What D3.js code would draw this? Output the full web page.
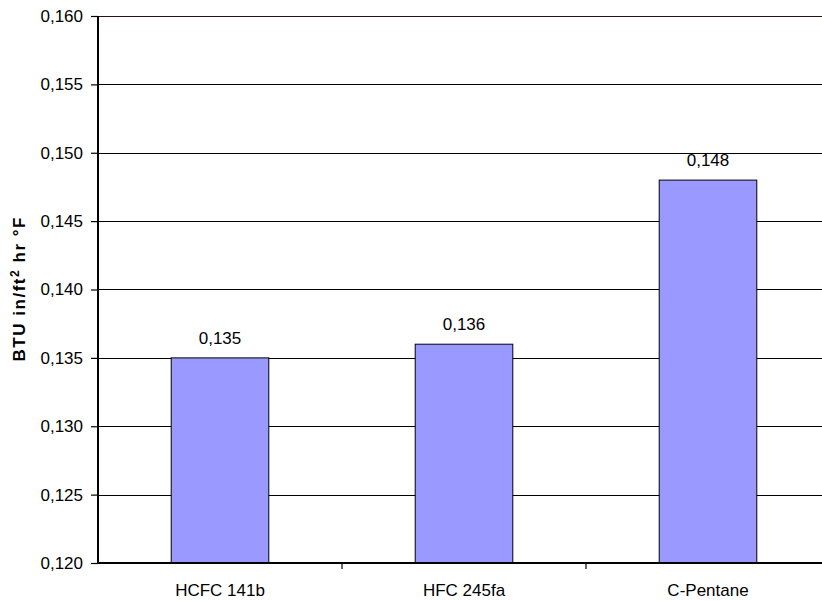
<!DOCTYPE html>
<html><head><meta charset="utf-8">
<script src="https://cdn.jsdelivr.net/npm/d3@7"></script>
<style>body{margin:0;background:#fff}svg{display:block}text{font-family:"Liberation Sans",Arial,sans-serif}</style>
</head><body>
<svg id="c" width="822" height="601"></svg>
<script>
const categories = ["HCFC 141b", "HFC 245fa", "C-Pentane"];
const values = [0.135, 0.136, 0.148];
const yTicks = [0.120, 0.125, 0.130, 0.135, 0.140, 0.145, 0.150, 0.155, 0.160];
const yLabelParts = ["BTU in/ft", "2", " hr °F"];

const svg = d3.select("#c");
const pL = 98, pR = 830, pT = 16, pB = 563;
const FS = 17;
const fmt = d => d3.format(".3f")(d).replace(".", ",");

const x = d3.scaleBand().domain(categories).range([pL, pR]).paddingInner(0.6).paddingOuter(0.3);
const xb = d3.scaleBand().domain(categories).range([pL, pR]);
const y = d3.scaleLinear().domain([0.120, 0.160]).range([pB, pT]);

// gridlines
svg.append("g").selectAll("line").data(yTicks.slice(1)).join("line")
  .attr("x1", pL).attr("x2", pR)
  .attr("y1", d => Math.round(y(d)) + 0.5).attr("y2", d => Math.round(y(d)) + 0.5)
  .attr("stroke", d => d === 0.160 ? "#2a1010" : "#000").attr("stroke-width", 1.2);

// bars
svg.append("g").selectAll("rect").data(values).join("rect")
  .attr("x", (d, i) => x(categories[i]))
  .attr("width", x.bandwidth())
  .attr("y", d => y(d))
  .attr("height", d => y(0.120) - y(d))
  .attr("fill", "#9999FF").attr("stroke", "#000").attr("stroke-width", 1);

// value labels
svg.append("g").selectAll("text").data(values).join("text")
  .attr("x", (d, i) => x(categories[i]) + x.bandwidth() / 2)
  .attr("y", d => y(d) - 14)
  .attr("text-anchor", "middle").attr("font-size", FS).attr("fill", "#000")
  .text(fmt);

// y axis
const ya = d3.axisLeft(y).tickValues(yTicks).tickFormat(fmt).tickSize(7).tickPadding(8);
const gy = svg.append("g").attr("transform", `translate(${pL},0)`).call(ya);
gy.select(".domain").attr("stroke-width", 2).attr("d", `M0,${pT}V${pB}`);
gy.selectAll(".tick line").attr("stroke-width", 1.2);
gy.selectAll("text").attr("font-size", FS).attr("fill", "#000").style("font-family", "Liberation Sans, Arial, sans-serif");

// x axis
const xa = d3.axisBottom(xb).tickSize(0).tickPadding(21);
const gx = svg.append("g").attr("transform", `translate(0,${pB})`).call(xa);
gx.select(".domain").attr("stroke-width", 2).attr("d", `M${pL},0H${pR}`);
gx.selectAll("text").attr("font-size", FS).attr("fill", "#000").style("font-family", "Liberation Sans, Arial, sans-serif");
// category separator ticks
svg.append("g").selectAll("line").data(categories.slice(1)).join("line")
  .attr("x1", d => xb(d)).attr("x2", d => xb(d))
  .attr("y1", pB).attr("y2", pB + 6)
  .attr("stroke", "#000").attr("stroke-width", 1.2);

// y label
const yl = svg.append("text")
  .attr("transform", `translate(25,${(pT + pB) / 2}) rotate(-90)`)
  .attr("text-anchor", "middle").attr("font-size", FS).attr("font-weight", "bold")
  .attr("textLength", 144).attr("lengthAdjust", "spacing");
yl.append("tspan").text(yLabelParts[0]);
yl.append("tspan").attr("dy", -6).attr("font-size", 12).text(yLabelParts[1]);
yl.append("tspan").attr("dy", 6).text(yLabelParts[2]);
</script>
</body></html>
